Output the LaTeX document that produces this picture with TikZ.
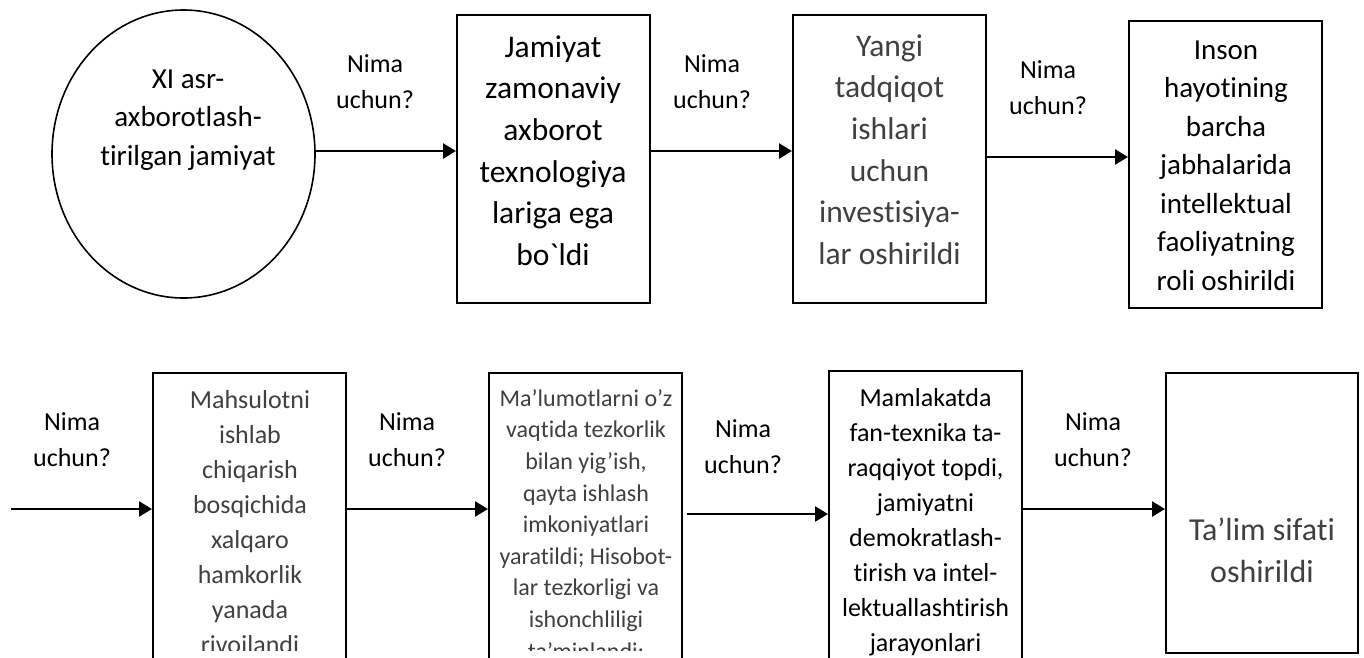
\documentclass[tikz,border=0pt]{standalone}
\usepackage{fontspec}
\setmainfont{Carlito}[Ligatures={TeXOff,NoCommon}]
\usetikzlibrary{shapes.geometric,arrows.meta}
\newcommand{\fz}[2]{\fontsize{#1pt}{#2pt}\selectfont}
\newcommand{\st}{\rule{0pt}{1em}}
\definecolor{txtgray}{HTML}{404040}
\begin{document}
\begin{tikzpicture}[x=1pt,y=-1pt,
 box/.style={draw, line width=2pt, rectangle, minimum width=193pt, inner sep=0pt},
 oval/.style={draw, ellipse, line width=1.6pt, inner sep=0pt},
 txt/.style={align=center, inner sep=0pt, anchor=north},
 lbl/.style={txt, font=\fz{26}{36}},
 arr/.style={line width=2.6pt, -{Triangle[length=13pt,width=15pt]}}]
\useasboundingbox (0,0) rectangle (1364,657);
\clip (0,0) rectangle (1364,657);
\fill[white] (0,0) rectangle (1364,657);
% shapes
\node[oval, minimum width=263pt, minimum height=288pt] (b0) at (183.5,154) {};
\node[box, minimum height=288pt] (b1) at (553.5,159) {};
\node[box, minimum height=288pt] (b2) at (889.5,159) {};
\node[box, minimum height=287pt] (b3) at (1225.5,164.5) {};
\node[box, minimum height=347pt] (b4) at (249.5,546.5) {};
\node[box, minimum height=347pt] (b5) at (585.5,546.5) {};
\node[box, minimum height=349pt] (b6) at (925.5,545.5) {};
\node[box, minimum width=192pt, minimum height=280pt] (b7) at (1262,513) {};
% texts
\node[txt, font=\fz{29}{38.5}] (t0) at (188,59) {\st XI asr-\\axborotlash-\\tirilgan jamiyat};
\node[txt, font=\fz{31.5}{41.6}] (t1) at (553,25.5) {\st Jamiyat\\zamonaviy\\axborot\\texnologiya\\lariga ega\\bo`ldi};
\node[txt, font=\fz{31.5}{41.6}, text=txtgray] (t2) at (889.5,24.5) {\st Yangi\\tadqiqot\\ishlari\\uchun\\investisiya-\\lar oshirildi};
\node[txt, font=\fz{29}{38.5}] (t3) at (1226,30) {\st Inson\\hayotining\\barcha\\jabhalarida\\intellektual\\faoliyatning\\roli oshirildi};
\begin{scope}
\clip (0,0) rectangle (1364,650);
\node[txt, font=\fz{26}{35}, text=txtgray] (t4) at (250,382) {\st Mahsulotni\\ishlab\\chiqarish\\bosqichida\\xalqaro\\hamkorlik\\yanada\\rivojlandi};
\node[txt, font=\fz{24}{31.6}, text=txtgray] (t5) at (586,382) {\st Ma’lumotlarni o’z\\vaqtida tezkorlik\\bilan yig’ish,\\qayta ishlash\\imkoniyatlari\\yaratildi; Hisobot-\\lar tezkorligi va\\ishonchliligi\\ta’minlandi;};
\end{scope}
\node[txt, font=\fz{26}{35}] (t6) at (925.5,380) {\st Mamlakatda\\fan-texnika ta-\\raqqiyot topdi,\\jamiyatni\\demokratlash-\\tirish va intel-\\lektuallashtirish\\jarayonlari};
\node[txt, font=\fz{32}{42}, text=txtgray] (t7) at (1262,508) {\st Ta’lim sifati\\oshirildi};
% labels
\node[lbl] (l1) at (375,46) {\st Nima\\uchun?};
\node[lbl] (l2) at (712,46) {\st Nima\\uchun?};
\node[lbl] (l3) at (1048,52) {\st Nima\\uchun?};
\node[lbl] (l4) at (72,404) {\st Nima\\uchun?};
\node[lbl] (l5) at (407,404) {\st Nima\\uchun?};
\node[lbl] (l6) at (743,411) {\st Nima\\uchun?};
\node[lbl] (l7) at (1093,404) {\st Nima\\uchun?};
% connectors
\coordinate (s4) at (11,509);
\coordinate (s6) at (687,514);
\draw[arr] ([yshift=3pt]b0.east) -- ([yshift=3pt]b0.east -| b1.west);
\draw[arr] ([yshift=8pt]b1.east) -- ([yshift=8pt]b2.west);
\draw[arr] ([yshift=2pt]b2.east) -- ([yshift=2pt]b2.east -| b3.west);
\draw[arr] (s4) -- (s4 -| b4.west);
\draw[arr] ([yshift=37.5pt]b4.east) -- ([yshift=37.5pt]b5.west);
\draw[arr] (s6) -- (s6 -| b6.west);
\draw[arr] ([yshift=4pt]b6.east |- b7.west) -- ([yshift=4pt]b7.west);
\end{tikzpicture}
\end{document}
